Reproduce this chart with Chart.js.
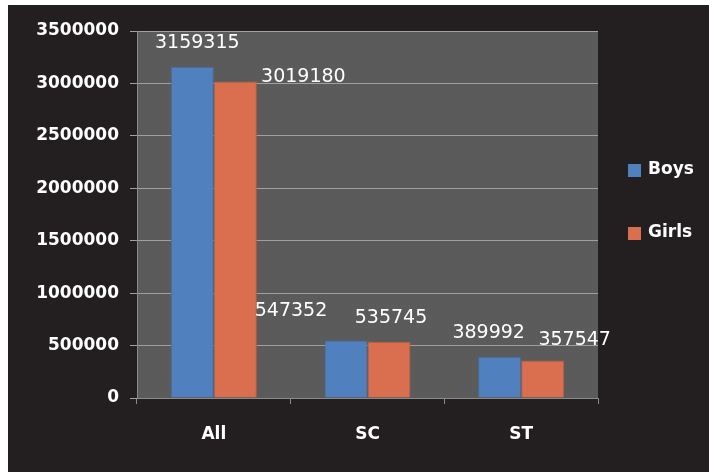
<!DOCTYPE html>
<html>
<head>
<meta charset="utf-8">
<script src="https://cdn.jsdelivr.net/npm/chart.js@4.4.1/dist/chart.umd.min.js"></script>
<style>
  html, body { margin: 0; padding: 0; background: #fff; }
  #wrap { position: absolute; left: 8px; top: 5px; width: 701px; height: 467px; }
</style>
</head>
<body>
<div id="wrap"><canvas id="myChart" width="701" height="467"></canvas></div>
<script>
const categories = ['All', 'SC', 'ST'];
const boys = [3159315, 547352, 389992];
const girls = [3019180, 535745, 357547];
const yTicks = [0, 500000, 1000000, 1500000, 2000000, 2500000, 3000000, 3500000];

// label offsets from the bar top (like the moved labels in the original)
const labelShift = [
    [[5, -24], [-55, -30], [-11, -24]],
    [[68, -4], [2, -24], [32, -20]]
];

const ctx = document.getElementById('myChart').getContext('2d');

function plotPattern() {
    const c = document.createElement('canvas');
    c.width = 4; c.height = 4;
    const p = c.getContext('2d');
    p.fillStyle = '#5a5a5a';
    p.fillRect(0, 0, 4, 4);
    p.fillStyle = '#606060';
    p.fillRect(0, 0, 1, 1);
    p.fillRect(2, 2, 1, 1);
    return ctx.createPattern(c, 'repeat');
}

const background = {
    id: 'background',
    beforeDraw(chart) {
        const c = chart.ctx;
        const a = chart.chartArea;
        c.save();
        c.fillStyle = '#231f20';
        c.fillRect(0, 0, chart.width, chart.height);
        c.fillStyle = plotPattern();
        c.fillRect(a.left, a.top, a.right - a.left, a.bottom - a.top);
        c.restore();
    }
};

const valueLabels = {
    id: 'valueLabels',
    afterDatasetsDraw(chart) {
        const c = chart.ctx;
        c.save();
        c.font = '19px "DejaVu Sans"';
        c.fillStyle = '#ffffff';
        c.textAlign = 'center';
        c.textBaseline = 'middle';
        chart.data.datasets.forEach((ds, i) => {
            chart.getDatasetMeta(i).data.forEach((bar, j) => {
                const s = labelShift[i][j];
                c.fillText(String(ds.data[j]), bar.x + s[0], bar.y + s[1]);
            });
        });
        c.restore();
    }
};

const sideLegend = {
    id: 'sideLegend',
    afterDraw(chart) {
        const c = chart.ctx;
        c.save();
        c.font = 'bold 17px "DejaVu Sans"';
        c.textBaseline = 'middle';
        chart.data.datasets.forEach((ds, i) => {
            const y = 165 + i * 63;
            c.fillStyle = ds.backgroundColor;
            c.fillRect(620, y - 6, 13, 13);
            c.fillStyle = '#ffffff';
            c.fillText(ds.label, 640, y);
        });
        c.restore();
    }
};

const chart = new Chart(ctx, {
    type: 'bar',
    data: {
        labels: categories,
        datasets: [
            { label: 'Boys', data: boys, backgroundColor: 'rgb(80, 129, 190)', borderColor: 'rgb(66, 110, 165)', borderWidth: 1 },
            { label: 'Girls', data: girls, backgroundColor: 'rgb(217, 111, 78)', borderColor: 'rgb(190, 92, 62)', borderWidth: 1 }
        ]
    },
    options: {
        responsive: false,
        animation: false,
        events: [],
        layout: { padding: { top: 26, right: 111, left: 0, bottom: 0 } },
        datasets: {
            bar: { categoryPercentage: 0.56, barPercentage: 1 }
        },
        plugins: {
            legend: { display: false },
            tooltip: { enabled: false }
        },
        scales: {
            x: {
                afterFit(scale) { scale.height = 74; },
                grid: {
                    offset: true,
                    drawOnChartArea: false,
                    color: '#8a8a8a',
                    tickLength: 6
                },
                border: { color: '#8a8a8a' },
                ticks: {
                    color: '#ffffff',
                    padding: 20,
                    font: { family: 'DejaVu Sans', size: 17, weight: 'bold' }
                }
            },
            y: {
                min: 0,
                max: 3500000,
                afterFit(scale) { scale.width = 129; },
                afterBuildTicks(scale) { scale.ticks = yTicks.map(v => ({ value: v })); },
                grid: { color: '#a0a0a0', tickLength: 7 },
                border: { color: '#8a8a8a' },
                ticks: {
                    color: '#ffffff',
                    padding: 11,
                    font: { family: 'DejaVu Sans', size: 17, weight: 'bold' },
                    callback: v => String(v)
                }
            }
        }
    },
    plugins: [background, valueLabels, sideLegend]
});
</script>
</body>
</html>
